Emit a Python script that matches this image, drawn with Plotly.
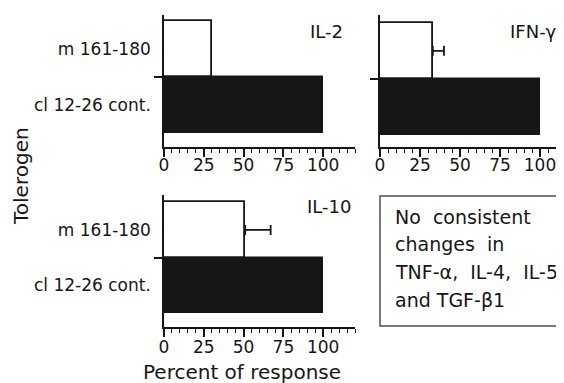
import plotly.graph_objects as go

# ---- data ----
cytokines = ["IL-2", "IFN-γ", "IL-10"]
tolerogens = ["cl 12-26 cont.", "m 161-180"]
control_pct = [100, 100, 100]
m_pct = [30, 33, 51]
m_err = [0, 7, 16]
x_ticks = [0, 25, 50, 75, 100]
x_ranges = [[0, 120], [0, 115], [0, 120]]
box_lines = ["No\u00a0 consistent", "changes\u00a0 in",
             "TNF-α,\u00a0 IL-4,\u00a0 IL-5", "and TGF-β1"]

# the page body has an 8px margin, so the figure starts at (8, 8)
OFF = 8
W, H = 564 - OFF, 383 - OFF
FONT = "DejaVu Sans"


def px_x(v):
    return (v - OFF) / W


def px_y(v):
    return 1 - (v - OFF) / H


# panel geometry (page pixels)
panels = [
    dict(x0=164, x1=355, y0=15, y1=147, yr=[-0.75, 1.6], labels=True, so=-6),
    dict(x0=380, x1=564, y0=15, y1=147, yr=[-0.72, 1.64], labels=False, so=-6),
    dict(x0=164, x1=355, y0=195, y1=327, yr=[-0.75, 1.63], labels=True, so=-4),
]
label_pos = [(308, 31.5), (508, 31.5), (305, 206.5)]

fig = go.Figure()
ypos = list(range(len(tolerogens)))

for i, p in enumerate(panels):
    xa = "x" if i == 0 else f"x{i+1}"
    ya = "y" if i == 0 else f"y{i+1}"
    # control bar (black)
    fig.add_trace(go.Bar(
        x=[control_pct[i]], y=[ypos[0]], orientation="h", width=1,
        marker=dict(color="#161616", line=dict(color="#161616", width=1.5)),
        xaxis=xa, yaxis=ya, showlegend=False, hoverinfo="skip"))
    # tolerogen bar (white, outlined)
    fig.add_trace(go.Bar(
        x=[m_pct[i]], y=[ypos[1]], orientation="h", width=1,
        marker=dict(color="white", line=dict(color="#161616", width=1.8)),
        error_x=dict(type="data", array=[m_err[i]], arrayminus=[0],
                     symmetric=False, visible=m_err[i] > 0,
                     color="#161616", thickness=1.8, width=5),
        xaxis=xa, yaxis=ya, showlegend=False, hoverinfo="skip"))

    xkey = "xaxis" if i == 0 else f"xaxis{i+1}"
    ykey = "yaxis" if i == 0 else f"yaxis{i+1}"
    fig.update_layout({
        xkey: dict(
            domain=[px_x(p["x0"]), min(1, px_x(p["x1"]))], range=x_ranges[i],
            anchor=ya, showline=True, linecolor="#161616", linewidth=1.6,
            showgrid=False, zeroline=False, automargin=False,
            tickmode="array", tickvals=x_ticks,
            ticks="outside", ticklen=8, tickwidth=1.5, tickcolor="#161616",
            ticklabelstandoff=p["so"],
            minor=dict(ticks="outside", dtick=5, tick0=0, ticklen=4,
                       tickwidth=1.2, tickcolor="#161616", showgrid=False),
            tickfont=dict(family=FONT, size=17, color="#161616"),
            fixedrange=True),
        ykey: dict(
            domain=[px_y(p["y1"]), px_y(p["y0"])], range=p["yr"],
            anchor=xa, showline=True, linecolor="#161616", linewidth=1.6,
            showgrid=False, zeroline=False, automargin=False,
            tickmode="array", tickvals=ypos, ticktext=tolerogens,
            showticklabels=p["labels"],
            ticks="outside", ticklen=8, tickcolor="rgba(0,0,0,0)",
            minor=dict(ticks="outside", tick0=0.5, dtick=10, ticklen=8,
                       tickwidth=1.5, tickcolor="#161616", showgrid=False),
            tickfont=dict(family=FONT, size=17, color="#161616"),
            fixedrange=True),
    })

annotations = []
for i, (lx, ly) in enumerate(label_pos):
    annotations.append(dict(
        text=cytokines[i], x=px_x(lx), y=px_y(ly), xref="paper", yref="paper",
        xanchor="left", yanchor="middle", showarrow=False,
        font=dict(family=FONT, size=18, color="#161616")))

annotations.append(dict(
    text="Tolerogen", x=px_x(21), y=px_y(176), xref="paper", yref="paper",
    xanchor="center", yanchor="middle", textangle=-90, showarrow=False,
    borderpad=0,
    font=dict(family=FONT, size=20, color="#161616")))
annotations.append(dict(
    text="Percent of response", x=px_x(242), y=px_y(372), xref="paper",
    yref="paper", xanchor="center", yanchor="middle", showarrow=False,
    font=dict(family=FONT, size=20, color="#161616")))

line_centers = [217, 244, 272, 300]
for t, cy in zip(box_lines, line_centers):
    annotations.append(dict(
        text=t, x=px_x(393), y=px_y(cy), xref="paper", yref="paper",
        xanchor="left", yanchor="middle", showarrow=False, align="left",
        font=dict(family=FONT, size=19, color="#161616")))

fig.update_layout(
    width=W, height=H, margin=dict(l=0, r=0, t=0, b=0, autoexpand=False),
    paper_bgcolor="white", plot_bgcolor="white",
    barmode="overlay", bargap=0, showlegend=False,
    annotations=annotations,
    shapes=[dict(type="rect", xref="paper", yref="paper",
                 x0=px_x(380), x1=px_x(610), y0=px_y(326), y1=px_y(196),
                 line=dict(color="#505050", width=1.5))],
)

fig.write_html("out.html")
